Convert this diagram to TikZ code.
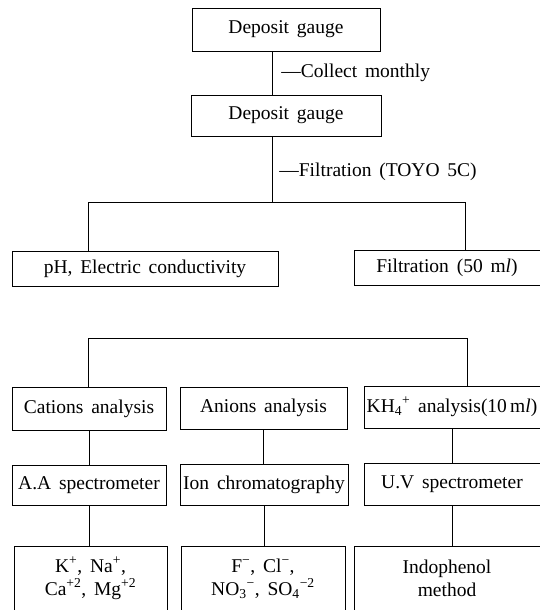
\documentclass[tikz,border=0pt]{standalone}
\usepackage{fontspec}
\setmainfont{Liberation Serif}[WordSpace={1.6,1,1}]
\tikzstyle{stage}=[draw,rectangle,inner sep=1pt,align=center,font=\fontsize{19.5}{23}\selectfont]
\tikzstyle{remark}=[anchor=west,inner sep=0pt,font=\fontsize{19.5}{23}\selectfont]

\begin{document}
\begin{tikzpicture}[x=1pt,y=-1pt,line width=0.8pt]
                  \useasboundingbox (0,0) rectangle (539,610);

                  \node (dep1) at (286,29.5) [stage,minimum width=188pt,minimum height=43pt] {Deposit gauge};
                  \node (dep2) at (286,115.5) [stage,minimum width=190pt,minimum height=41pt] {Deposit gauge};
                  \node (lab1) at (281,73) [remark] {—Collect monthly};
                  \node (lab2) at (279,172) [remark] {—Filtration (TOYO 5C)};

                  \node (ph) at (145,268.5) [stage,minimum width=266pt,minimum height=35pt] {pH, Electric conductivity};
                  \node (filt) at (447,267.5) [stage,minimum width=186pt,minimum height=35pt] {Filtration (50 m\textit{l})};

                  \node (cat) at (89,408.5) [stage,minimum width=154pt,minimum height=43pt] {Cations analysis};
                  \node (ani) at (263.5,408) [stage,minimum width=167pt,minimum height=42pt] {Anions analysis};
                  \node (kh) at (452,407) [stage,minimum width=176pt,minimum height=42pt] {KH\textsubscript{4}\textsuperscript{+} analysis(10\,m\textit{l})};

                  \node (aa) at (89,485) [stage,minimum width=154pt,minimum height=40pt] {A.A spectrometer};
                  \node (ion) at (264,484.5) [stage,minimum width=168pt,minimum height=41pt] {Ion chromatography};
                  \node (uv) at (452,484) [stage,minimum width=176pt,minimum height=42pt] {U.V spectrometer};

                  \node (cions) at (90.5,578.5) [stage,minimum width=153pt,minimum height=65pt] {K\textsuperscript{+}, Na\textsuperscript{+},\\Ca\textsuperscript{+2}, Mg\textsuperscript{+2}};
                  \node (aions) at (263,578.5) [stage,minimum width=164pt,minimum height=65pt] {F\textsuperscript{−}, Cl\textsuperscript{−},\\NO\textsubscript{3}\textsuperscript{−}, SO\textsubscript{4}\textsuperscript{−2}};
                  \node (indo) at (447,578.5) [stage,minimum width=186pt,minimum height=65pt] {Indophenol\\method};

                  \coordinate (j1) at (272,202);
                  \coordinate (jl) at (88,202);
                  \coordinate (jr) at (465,202);
                  \coordinate (kl) at (88,338);
                  \coordinate (kr) at (467,338);

                  \draw (dep1.south -| j1) -- (dep2.north -| j1);
                  \draw (dep2.south -| j1) -- (j1);
                  \draw (ph.north -| jl) -- (jl) -- (jr) -- (filt.north -| jr);

                  \draw (cat.north -| kl) -- (kl) -- (kr) -- (kh.north -| kr);
                  \draw (cat) -- (aa);
                  \draw (aa.south) -- (cions.north -| aa.south);
                  \draw (ani.south) -- (ion.north -| ani.south);
                  \draw (ion.south) -- (aions.north -| ion.south);
                  \draw (kh) -- (uv);
                  \draw (uv.south) -- (indo.north -| uv.south);
              \end{tikzpicture}
\end{document}
